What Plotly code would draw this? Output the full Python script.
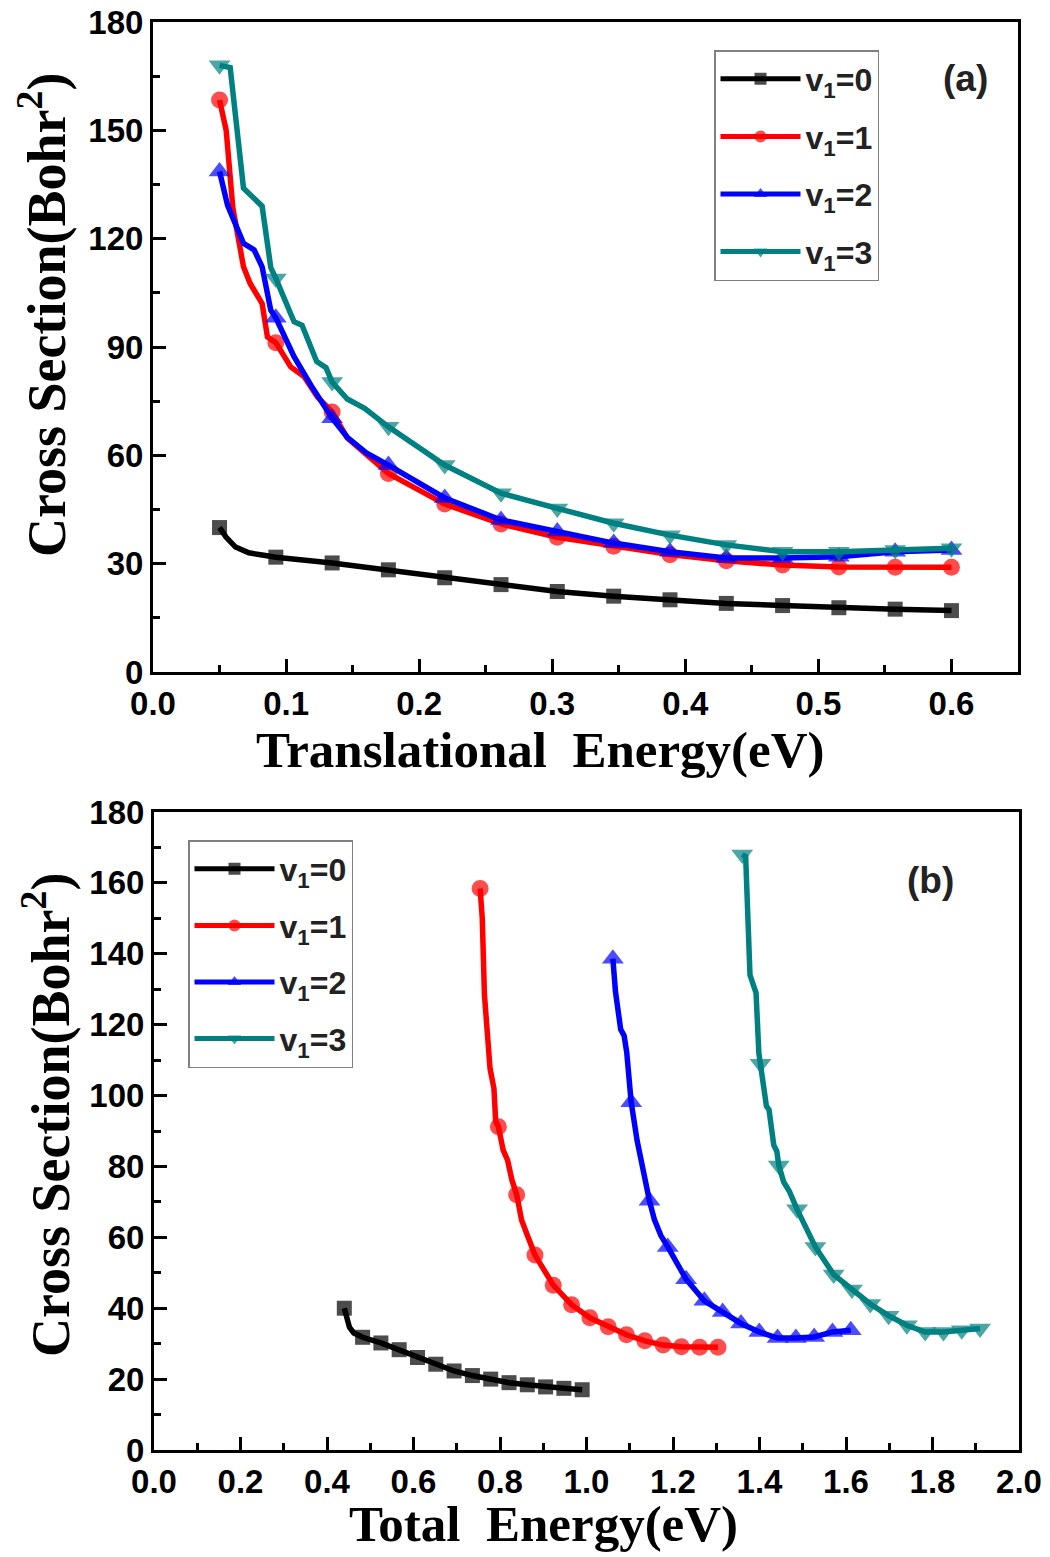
import numpy as np
import plotly.graph_objects as go

W, H = 1050, 1557

# translational energies where the symbols sit (eV)
e_marker = [0.05, 0.0923, 0.1346, 0.1769, 0.2192, 0.2615, 0.3038, 0.3462,
            0.3885, 0.4308, 0.4731, 0.5154, 0.5577, 0.6]

# v1 = 0
e_v0 = [0.05, 0.055, 0.062, 0.072, 0.082, 0.0923, 0.1346, 0.1769, 0.2192, 0.2615,
        0.3038, 0.3462, 0.3885, 0.4308, 0.4731, 0.5154, 0.5577, 0.6]
cs_v0 = [40.0, 37.3, 34.6, 33.0, 32.4, 31.8, 30.2, 28.3, 26.1, 24.2,
         22.3, 21.0, 20.0, 19.0, 18.4, 17.8, 17.4, 17.0]

# v1 = 1
e_v1 = [0.05, 0.055, 0.060, 0.068, 0.073, 0.082, 0.086, 0.0923, 0.1035, 0.1135, 0.1235,
        0.1346, 0.146, 0.161, 0.1769, 0.2192, 0.2615, 0.3038, 0.3462, 0.3885, 0.4308,
        0.4731, 0.5154, 0.5577, 0.6]
cs_v1 = [158.4, 150.0, 128.5, 112.2, 107.6, 102.0, 92.8, 91.2, 84.5, 81.8, 76.2,
         72.0, 64.8, 60.0, 55.0, 46.5, 41.0, 37.3, 34.8, 32.5, 30.8,
         29.6, 29.1, 29.0, 29.0]

# v1 = 2
e_v2 = [0.05, 0.056, 0.068, 0.076, 0.082, 0.0885, 0.0923, 0.106, 0.1185, 0.1346,
        0.146, 0.161, 0.1769, 0.2192, 0.2615, 0.3038, 0.3462, 0.3885, 0.4308,
        0.4731, 0.5154, 0.5577, 0.6]
cs_v2 = [138.6, 129.3, 118.7, 116.9, 112.2, 100.2, 98.1, 87.3, 79.5, 70.3,
         65.0, 60.5, 57.3, 48.2, 42.1, 38.9, 35.7, 33.3, 31.6,
         31.6, 31.9, 33.3, 33.8]

# v1 = 3
e_v3 = [0.05, 0.058, 0.068, 0.082, 0.0885, 0.0923, 0.106, 0.112, 0.123, 0.130,
        0.1346, 0.146, 0.159, 0.1769, 0.2192, 0.2615, 0.3038, 0.3462, 0.3885,
        0.4308, 0.4731, 0.5154, 0.5577, 0.6]
cs_v3 = [168.0, 167.4, 134.0, 129.0, 112.0, 109.0, 97.0, 96.0, 86.0, 84.3,
         80.3, 75.6, 73.0, 67.9, 57.3, 49.5, 45.3, 41.2, 37.9,
         35.2, 33.3, 33.3, 33.8, 34.3]

# vibrational energy added to get the total energy (eV)
e_vib = [0.39, 0.704, 1.011, 1.31]

names = ["v<sub>1</sub>=0", "v<sub>1</sub>=1", "v<sub>1</sub>=2", "v<sub>1</sub>=3"]
colors = ["#000000", "#FF0000", "#0000FF", "#008080"]
symbols = ["square", "circle", "triangle-up", "triangle-down"]
msizes = [15, 17, 19, 19]

energies = [e_v0, e_v1, e_v2, e_v3]
sections = [cs_v0, cs_v1, cs_v2, cs_v3]

fig = go.Figure()

for i in range(4):
    e = np.array(energies[i])
    flag = np.array([np.isclose(e_marker, v).any() for v in e])
    sizes = np.where(flag, msizes[i], 0)
    for panel in (1, 2):
        x = e if panel == 1 else e + e_vib[i]
        fig.add_trace(go.Scatter(
            x=x, y=sections[i],
            mode="lines+markers",
            name=names[i],
            legendgroup=f"g{panel}{i}",
            legend="legend" if panel == 1 else "legend2",
            line=dict(color=colors[i], width=5.5),
            marker=dict(symbol=symbols[i], size=sizes, color=colors[i],
                        line=dict(width=0)),
            xaxis="x" if panel == 1 else "x2",
            yaxis="y" if panel == 1 else "y2",
        ))

tick_font = dict(family="Liberation Sans, Arial", size=33, color="black", weight="bold")
axis_common = dict(
    showline=True, linecolor="black", linewidth=3, mirror=True,
    ticks="inside", ticklen=13, tickwidth=2.5, tickcolor="black",
    showgrid=False, zeroline=False, tickfont=tick_font, automargin=False,
    ticklabeloverflow="allow",
)

# reference-picture pixels -> paper fractions
def px_x(p):
    return p / W

def px_y(p):
    return 1 - p / H

legend_font = dict(family="Liberation Sans, Arial", size=32, color="#222", weight="bold")

fig.update_layout(
    width=W, height=H,
    margin=dict(l=0, r=0, t=0, b=0, autoexpand=False),
    plot_bgcolor="white", paper_bgcolor="white",
    xaxis=dict(domain=[px_x(153), px_x(1018)], range=[0, 0.65], dtick=0.1,
               tickformat=".1f", anchor="y",
               minor=dict(ticks="inside", ticklen=7, tickwidth=2.5, dtick=0.05,
                          tickcolor="black"),
               **axis_common),
    yaxis=dict(domain=[px_y(672), px_y(22)], range=[0, 180], dtick=30, anchor="x",
               minor=dict(ticks="inside", ticklen=7, tickwidth=2.5, dtick=15,
                          tickcolor="black"),
               **axis_common),
    xaxis2=dict(domain=[px_x(154), px_x(1019)], range=[0, 2.0], dtick=0.2,
                tickformat=".1f", anchor="y2",
                minor=dict(ticks="inside", ticklen=7, tickwidth=2.5, dtick=0.1,
                           tickcolor="black"),
                **axis_common),
    yaxis2=dict(domain=[px_y(1450), px_y(812)], range=[0, 180], dtick=20, anchor="x2",
                minor=dict(ticks="inside", ticklen=7, tickwidth=2.5, dtick=10,
                           tickcolor="black"),
                **axis_common),
    legend=dict(x=px_x(714), y=px_y(50), xanchor="left", yanchor="top",
                bgcolor="white", bordercolor="#808080", borderwidth=1.5,
                font=legend_font, itemwidth=80,
                itemsizing="constant", tracegroupgap=13),
    legend2=dict(x=px_x(188), y=px_y(840), xanchor="left", yanchor="top",
                 bgcolor="white", bordercolor="#808080", borderwidth=1.5,
                 font=legend_font, itemwidth=80,
                 itemsizing="constant", tracegroupgap=12),
)

serif_x = dict(family="Liberation Serif, Times New Roman", size=51, color="black",
               weight="bold")
serif_y = dict(family="Liberation Serif, Times New Roman", size=54, color="black",
               weight="bold")
label_font = dict(family="Liberation Sans, Arial", size=37, color="#222", weight="bold")

annotations = [
    dict(text="Translational&nbsp; Energy(eV)", x=px_x(540), y=px_y(750), font=serif_x),
    dict(text="Total&nbsp; Energy(eV)", x=px_x(543), y=px_y(1524), font=serif_x),
    dict(text="Cross Section(Bohr<sup>2</sup>)", x=px_x(42), y=px_y(315),
         textangle=-90, font=serif_y),
    dict(text="Cross Section(Bohr<sup>2</sup>)", x=px_x(46), y=px_y(1115),
         textangle=-90, font=serif_y),
    dict(text="(a)", x=px_x(965), y=px_y(78), font=label_font),
    dict(text="(b)", x=px_x(930), y=px_y(880), font=label_font),
]
for a in annotations:
    fig.add_annotation(xref="paper", yref="paper", showarrow=False,
                       xanchor="center", yanchor="middle", **a)

# drop the default 8px body margin so the figure fills the window exactly
fig.write_html("out.html",
               config={"displayModeBar": False},
               post_script="document.body.style.margin='0px';"
                           "document.body.style.overflow='hidden';")
